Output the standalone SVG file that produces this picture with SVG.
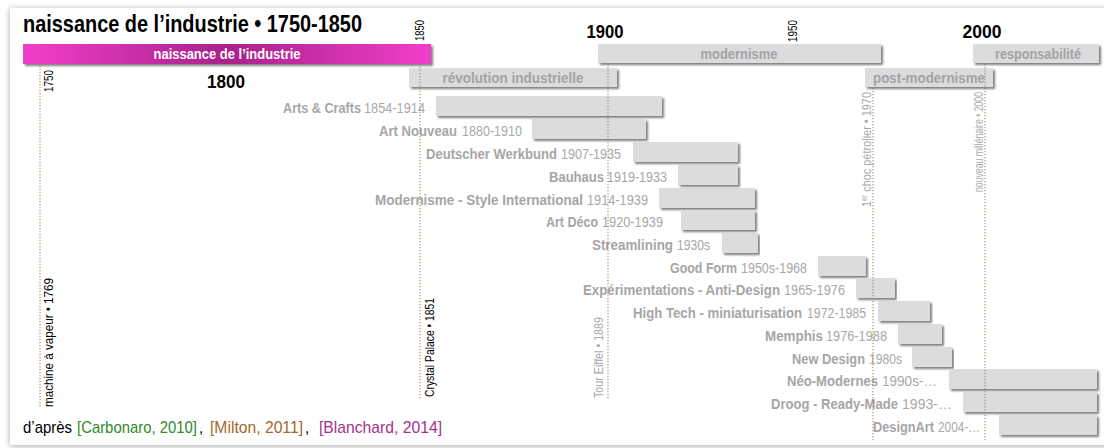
<svg xmlns="http://www.w3.org/2000/svg" width="1104" height="448" viewBox="0 0 1104 448">
<defs>
<filter id="card" x="-5%" y="-5%" width="110%" height="110%">
<feDropShadow dx="0" dy="1" stdDeviation="3" flood-color="#000" flood-opacity="0.35"/>
</filter>
<filter id="bsh" x="-5%" y="-20%" width="110%" height="150%">
<feDropShadow dx="2" dy="2" stdDeviation="0.8" flood-color="#6a6a6a" flood-opacity="0.85"/>
</filter>
<linearGradient id="pink" x1="0" y1="0" x2="1" y2="0">
<stop offset="0" stop-color="#f23ecb"/>
<stop offset="0.5" stop-color="#a9228b"/>
<stop offset="1" stop-color="#f23ecb"/>
</linearGradient>
<style>
text{font-family:"Liberation Sans",Arial,sans-serif}
.bar{fill:#dcdcde;filter:url(#bsh)}
.era{font-size:15px;font-weight:bold;fill:#a3a3a3;text-anchor:middle}
.b{font-size:13px;font-weight:bold;fill:#a6a6a6}
.y{font-size:13px;fill:#a8a8a8}
.yr{font-size:19px;font-weight:bold;fill:#000;text-anchor:middle}
.vt{fill:#000}
.vg{fill:#aaaaaa}
.ref{font-size:15px}
.dot{stroke:#a27838;stroke-width:1.2;stroke-dasharray:1.2 1.8;fill:none;opacity:0.8}
</style>
</defs>
<rect x="0" y="0" width="1104" height="448" fill="#ffffff"/>
<rect x="10" y="8" width="1110" height="437" fill="#ffffff" filter="url(#card)"/>

<text transform="translate(23,32) scale(1,1.15)" font-size="20" font-weight="bold" fill="#000" textLength="339" lengthAdjust="spacingAndGlyphs">naissance de l’industrie • 1750-1850</text>

<g id="eras">
<g id="era-naissance"><rect x="23" y="44" width="408" height="20" fill="url(#pink)" filter="url(#bsh)"/><text x="227" y="59" font-size="15" font-weight="bold" fill="#fff" text-anchor="middle" textLength="147" lengthAdjust="spacingAndGlyphs">naissance de l’industrie</text></g>
<g id="era-revolution"><rect class="bar" x="409" y="68" width="208" height="19"/><text class="era" x="513" y="83" textLength="141" lengthAdjust="spacingAndGlyphs">révolution industrielle</text></g>
<g id="era-modernisme"><rect class="bar" x="598" y="44" width="283" height="19"/><text class="era" x="739" y="59" textLength="77" lengthAdjust="spacingAndGlyphs">modernisme</text></g>
<g id="era-postmodernisme"><rect class="bar" x="865" y="68" width="128" height="19"/><text class="era" x="929" y="83" textLength="112" lengthAdjust="spacingAndGlyphs">post-modernisme</text></g>
<g id="era-responsabilite"><rect class="bar" x="973" y="44" width="126" height="19"/><text class="era" x="1038" y="59" textLength="86" lengthAdjust="spacingAndGlyphs">responsabilité</text></g>
</g>

<g id="years">
<text class="yr" x="226" y="88" textLength="38" lengthAdjust="spacingAndGlyphs">1800</text>
<text class="yr" x="605" y="38" textLength="37" lengthAdjust="spacingAndGlyphs">1900</text>
<text class="yr" x="982" y="38" textLength="39" lengthAdjust="spacingAndGlyphs">2000</text>
<text class="vt" font-size="9.9" transform="translate(53,92) rotate(-90) scale(1,1.36)" textLength="22" lengthAdjust="spacingAndGlyphs">1750</text>
<text class="vt" font-size="9.9" transform="translate(424,41) rotate(-90) scale(1,1.36)" textLength="21" lengthAdjust="spacingAndGlyphs">1850</text>
<text class="vt" font-size="9.9" transform="translate(797,42) rotate(-90) scale(1,1.36)" textLength="22" lengthAdjust="spacingAndGlyphs">1950</text>
</g>

<g id="rows">
<g id="r1"><rect class="bar" x="436" y="96" width="226" height="20"/><text class="b" transform="translate(283,113) scale(1,1.19)" textLength="78" lengthAdjust="spacingAndGlyphs">Arts &amp; Crafts</text><text class="y" transform="translate(364,113) scale(1,1.19)" textLength="61" lengthAdjust="spacingAndGlyphs">1854-1914</text></g>
<g id="r2"><rect class="bar" x="532" y="119" width="114" height="20"/><text class="b" transform="translate(379,136) scale(1,1.19)" textLength="78" lengthAdjust="spacingAndGlyphs">Art Nouveau</text><text class="y" transform="translate(462,136) scale(1,1.19)" textLength="60" lengthAdjust="spacingAndGlyphs">1880-1910</text></g>
<g id="r3"><rect class="bar" x="633" y="142" width="105" height="20"/><text class="b" transform="translate(426,159) scale(1,1.19)" textLength="131" lengthAdjust="spacingAndGlyphs">Deutscher Werkbund</text><text class="y" transform="translate(561,159) scale(1,1.19)" textLength="60" lengthAdjust="spacingAndGlyphs">1907-1935</text></g>
<g id="r4"><rect class="bar" x="678" y="165" width="60" height="20"/><text class="b" transform="translate(549,182) scale(1,1.19)" textLength="55" lengthAdjust="spacingAndGlyphs">Bauhaus</text><text class="y" transform="translate(607,182) scale(1,1.19)" textLength="60" lengthAdjust="spacingAndGlyphs">1919-1933</text></g>
<g id="r5"><rect class="bar" x="659" y="188" width="96" height="20"/><text class="b" transform="translate(375,205) scale(1,1.19)" textLength="208" lengthAdjust="spacingAndGlyphs">Modernisme - Style International</text><text class="y" transform="translate(587,205) scale(1,1.19)" textLength="61" lengthAdjust="spacingAndGlyphs">1914-1939</text></g>
<g id="r6"><rect class="bar" x="681" y="210" width="74" height="20"/><text class="b" transform="translate(546,227) scale(1,1.19)" textLength="52" lengthAdjust="spacingAndGlyphs">Art Déco</text><text class="y" transform="translate(602,227) scale(1,1.19)" textLength="61" lengthAdjust="spacingAndGlyphs">1920-1939</text></g>
<g id="r7"><rect class="bar" x="722" y="233" width="36" height="20"/><text class="b" transform="translate(592,250) scale(1,1.19)" textLength="81" lengthAdjust="spacingAndGlyphs">Streamlining</text><text class="y" transform="translate(677,250) scale(1,1.19)" textLength="33" lengthAdjust="spacingAndGlyphs">1930s</text></g>
<g id="r8"><rect class="bar" x="818" y="256" width="48" height="20"/><text class="b" transform="translate(670,273) scale(1,1.19)" textLength="67" lengthAdjust="spacingAndGlyphs">Good Form</text><text class="y" transform="translate(741,273) scale(1,1.19)" textLength="66" lengthAdjust="spacingAndGlyphs">1950s-1968</text></g>
<g id="r9"><rect class="bar" x="856" y="278" width="39" height="20"/><text class="b" transform="translate(583,295) scale(1,1.19)" textLength="197" lengthAdjust="spacingAndGlyphs">Expérimentations - Anti-Design</text><text class="y" transform="translate(784,295) scale(1,1.19)" textLength="61" lengthAdjust="spacingAndGlyphs">1965-1976</text></g>
<g id="r10"><rect class="bar" x="878" y="301" width="52" height="20"/><text class="b" transform="translate(633,318) scale(1,1.19)" textLength="169" lengthAdjust="spacingAndGlyphs">High Tech - miniaturisation</text><text class="y" transform="translate(807,318) scale(1,1.19)" textLength="59" lengthAdjust="spacingAndGlyphs">1972-1985</text></g>
<g id="r11"><rect class="bar" x="898" y="324" width="44" height="20"/><text class="b" transform="translate(765,341) scale(1,1.19)" textLength="58" lengthAdjust="spacingAndGlyphs">Memphis</text><text class="y" transform="translate(826,341) scale(1,1.19)" textLength="61" lengthAdjust="spacingAndGlyphs">1976-1988</text></g>
<g id="r12"><rect class="bar" x="912" y="347" width="40" height="20"/><text class="b" transform="translate(792,364) scale(1,1.19)" textLength="73" lengthAdjust="spacingAndGlyphs">New Design</text><text class="y" transform="translate(869,364) scale(1,1.19)" textLength="33" lengthAdjust="spacingAndGlyphs">1980s</text></g>
<g id="r13"><rect class="bar" x="949" y="369" width="148" height="20"/><text class="b" transform="translate(787,386) scale(1,1.19)" textLength="91" lengthAdjust="spacingAndGlyphs">Néo-Modernes</text><text class="y" transform="translate(882,386) scale(1,1.19)" textLength="55" lengthAdjust="spacingAndGlyphs">1990s-…</text></g>
<g id="r14"><rect class="bar" x="963" y="392" width="134" height="20"/><text class="b" transform="translate(771,409) scale(1,1.19)" textLength="127" lengthAdjust="spacingAndGlyphs">Droog - Ready-Made</text><text class="y" transform="translate(902,409) scale(1,1.19)" textLength="50" lengthAdjust="spacingAndGlyphs">1993-…</text></g>
<g id="r15"><rect class="bar" x="999" y="415" width="98" height="20"/><text class="b" transform="translate(873,432) scale(1,1.19)" textLength="61" lengthAdjust="spacingAndGlyphs">DesignArt</text><text class="y" transform="translate(938,432) scale(1,1.19)" textLength="42" lengthAdjust="spacingAndGlyphs">2004-…</text></g>
</g>

<g id="connectors">
<line class="dot" x1="40" y1="66" x2="40" y2="408"/>
<line class="dot" x1="420" y1="64" x2="420" y2="400"/>
<line class="dot" x1="608" y1="64" x2="608" y2="400"/>
<line class="dot" x1="873" y1="88" x2="873" y2="440"/>
<line class="dot" x1="985" y1="64" x2="985" y2="440"/>
</g>

<g id="events">
<text class="vt" font-size="11.6" transform="translate(53,407) rotate(-90) scale(1,1.16)" textLength="129" lengthAdjust="spacingAndGlyphs">machine à vapeur • 1769</text>
<text class="vt" font-size="10.3" transform="translate(434,397) rotate(-90) scale(1,1.31)" textLength="99" lengthAdjust="spacingAndGlyphs">Crystal Palace • 1851</text>
<text class="vg" font-size="10.5" transform="translate(603,398) rotate(-90) scale(1,1.28)" textLength="81" lengthAdjust="spacingAndGlyphs">Tour Eiffel • 1889</text>
<text class="vg" font-size="10.9" transform="translate(871,207) rotate(-90) scale(1,1.24)" textLength="115" lengthAdjust="spacingAndGlyphs">1<tspan font-size="6.8" dy="-3.6">er</tspan><tspan dy="3.6"> choc pétrolier • 1970</tspan></text>
<text class="vg" font-size="8.7" transform="translate(983,192) rotate(-90) scale(1,1.4)" textLength="100" lengthAdjust="spacingAndGlyphs">nouveau millénaire • 2000</text>
</g>

<g id="references">
<text class="ref" transform="translate(23,433) scale(1,1.13)" fill="#000" textLength="49" lengthAdjust="spacingAndGlyphs">d’après</text>
<text class="ref" transform="translate(77,433) scale(1,1.13)" fill="#2f8a2a" textLength="120" lengthAdjust="spacingAndGlyphs">[Carbonaro, 2010]</text>
<text class="ref" transform="translate(199,433) scale(1,1.13)" fill="#000">,</text>
<text class="ref" transform="translate(210,433) scale(1,1.13)" fill="#a2682a" textLength="93" lengthAdjust="spacingAndGlyphs">[Milton, 2011]</text>
<text class="ref" transform="translate(305,433) scale(1,1.13)" fill="#000">,</text>
<text class="ref" transform="translate(319,433) scale(1,1.13)" fill="#a3318c" textLength="123" lengthAdjust="spacingAndGlyphs">[Blanchard, 2014]</text>
</g>
</svg>
